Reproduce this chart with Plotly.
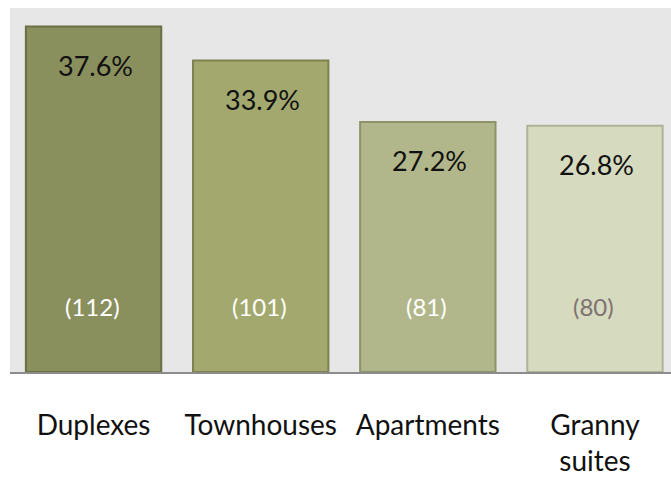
import plotly.graph_objects as go

# Housing type shares with respondent counts
categories = ["Duplexes", "Townhouses", "Apartments", "Granny<br>suites"]
shares = [37.6, 33.9, 27.2, 26.8]
counts = [112, 101, 81, 80]

bar_colors = ["#8a8f5e", "#a2a86e", "#b1b78a", "#d6dabe"]
edge_colors = ["#6b6f45", "#7d8250", "#8d9368", "#aeb296"]
count_colors = ["#ffffff", "#ffffff", "#ffffff", "#7f7272"]

FONT = "Lato, Open Sans, sans-serif"

fig = go.Figure()
fig.add_trace(go.Bar(
    x=categories,
    y=shares,
    marker=dict(color=bar_colors, line=dict(color=edge_colors, width=2)),
    width=0.81,
    hoverinfo="skip",
))

# Percent labels near the top of each bar, counts near the bottom
for cat, val, n, ccol in zip(categories, shares, counts, count_colors):
    fig.add_annotation(x=cat, y=val, text=f"{val:.1f}%", showarrow=False,
                       yanchor="middle", yshift=-39, xshift=2,
                       font=dict(family=FONT, size=27, color="#111111"))
    fig.add_annotation(x=cat, y=0, text=f"({n})", showarrow=False,
                       yanchor="middle", yshift=66, xshift=-1,
                       font=dict(family=FONT, size=24, color=ccol))

fig.update_layout(
    width=671, height=477,
    margin=dict(l=10, r=0, t=8, b=105),
    paper_bgcolor="#ffffff",
    plot_bgcolor="#e7e7e7",
    showlegend=False,
    bargap=0.19,
    font=dict(family=FONT, size=28, color="#111111"),
)
fig.update_xaxes(
    range=[-0.5, 3.455],
    automargin=False,
    showline=True, linecolor="#8c8c8c", linewidth=2,
    ticks="", showgrid=False,
    tickfont=dict(family=FONT, size=28, color="#111111"),
    ticklabelstandoff=27,
)
fig.update_yaxes(range=[0, 39.6], visible=False, showgrid=False,
                 zeroline=False, automargin=False)

fig.write_html("out.html")
